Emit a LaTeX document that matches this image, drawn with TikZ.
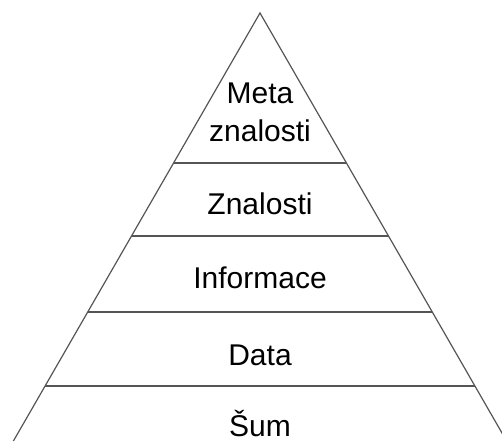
\documentclass[tikz,border=0pt]{standalone}
\usepackage{fontspec}
\setmainfont{Liberation Sans}
\usetikzlibrary{calc}
\definecolor{edgegrey}{RGB}{85,85,85}

\begin{document}
\begin{tikzpicture}[x=1pt, y=1pt,
    edge/.style={draw=edgegrey, line width=1.2pt},
    layer/.style={font=\fontsize{30}{38}\selectfont, anchor=base,
        inner sep=0pt, align=center}
]
    \useasboundingbox (0,0) rectangle (502,441);
    \clip (0,0) rectangle (502,441);

    \coordinate (apex) at (260,428);
    \coordinate (bl) at (13.4,0);
    \coordinate (br) at (506.6,0);
    \draw[edge] (bl) -- (apex) -- (br);

    % layer borders
    \foreach \t in {0.3505,0.521,0.6986,0.8715}
        \draw[edge] ($(apex)!\t!(bl)$) -- ($(apex)!\t!(br)$);

    \node[layer, anchor=center] (meta) at (260,328.5) {Meta\\znalosti};
    \node[layer] (znal) at (260,226) {Znalosti};
    \node[layer] (info) at (260,152) {Informace};
    \node[layer] (data) at (260,75) {Data};
    \node[layer] (sum) at (260,5) {Šum};
\end{tikzpicture}
\end{document}
